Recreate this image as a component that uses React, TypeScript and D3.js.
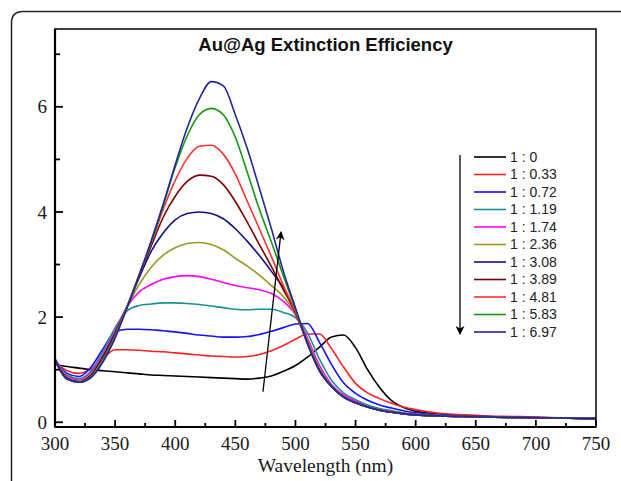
import { useEffect, useRef } from 'react';
import * as d3 from 'd3';

// wavelengths (nm) sampled along every curve
const wavelengths = [
  300, 310, 320, 330, 340, 350, 360, 370, 380, 390, 400, 410, 420, 430, 440, 450,
  460, 470, 480, 490, 500, 510, 520, 530, 540, 550, 560, 570, 580, 590, 600,
  620, 640, 660, 680, 700, 725, 750,
];

const ratioLabels = [
  '1 : 0', '1 : 0.33', '1 : 0.72', '1 : 1.19', '1 : 1.74', '1 : 2.36',
  '1 : 3.08', '1 : 3.89', '1 : 4.81', '1 : 5.83', '1 : 6.97',
];

const ratioColors = [
  '#000000', '#ff2020', '#1010ff', '#1a9090', '#ff00ff', '#999922',
  '#10108a', '#800000', '#ff3030', '#109a10', '#2525a0',
];

const ext0 = [1.10, 1.06, 1.03, 1.00, 0.98, 0.96, 0.94, 0.92, 0.90, 0.89, 0.88, 0.87, 0.86, 0.85, 0.84, 0.83,
  0.82, 0.84, 0.88, 0.97, 1.08, 1.24, 1.43, 1.62, 1.66, 1.42, 1.00, 0.66, 0.41, 0.28, 0.21,
  0.16, 0.13, 0.11, 0.10, 0.09, 0.08, 0.07];
const ext033 = [1.15, 0.98, 0.93, 1.02, 1.22, 1.38, 1.38, 1.37, 1.35, 1.34, 1.32, 1.30, 1.28, 1.26, 1.25, 1.24,
  1.25, 1.29, 1.36, 1.46, 1.58, 1.68, 1.68, 1.40, 1.05, 0.74, 0.56, 0.45, 0.36, 0.29, 0.24,
  0.17, 0.14, 0.12, 0.11, 0.10, 0.08, 0.07];
const ext072 = [1.18, 0.93, 0.87, 1.05, 1.40, 1.72, 1.77, 1.77, 1.76, 1.74, 1.72, 1.69, 1.66, 1.64, 1.62, 1.62,
  1.63, 1.67, 1.73, 1.80, 1.87, 1.88, 1.52, 1.10, 0.75, 0.55, 0.42, 0.33, 0.27, 0.22, 0.18,
  0.14, 0.12, 0.11, 0.10, 0.09, 0.08, 0.07];
const ext119 = [1.20, 0.90, 0.83, 0.98, 1.35, 1.80, 2.12, 2.22, 2.25, 2.27, 2.27, 2.26, 2.24, 2.21, 2.18, 2.15,
  2.14, 2.15, 2.15, 2.09, 1.99, 1.70, 1.20, 0.80, 0.56, 0.43, 0.33, 0.26, 0.22, 0.18, 0.16,
  0.13, 0.11, 0.10, 0.09, 0.085, 0.08, 0.07];
const ext174 = [1.20, 0.88, 0.80, 0.95, 1.30, 1.75, 2.20, 2.48, 2.62, 2.72, 2.77, 2.79, 2.77, 2.72, 2.66, 2.60,
  2.56, 2.52, 2.45, 2.30, 2.05, 1.60, 1.08, 0.72, 0.52, 0.40, 0.30, 0.24, 0.20, 0.17, 0.15,
  0.12, 0.11, 0.10, 0.09, 0.085, 0.08, 0.07];
const ext236 = [1.20, 0.86, 0.78, 0.92, 1.27, 1.72, 2.20, 2.62, 2.95, 3.18, 3.32, 3.40, 3.42, 3.38, 3.28, 3.12,
  2.97, 2.80, 2.60, 2.39, 2.06, 1.55, 1.02, 0.69, 0.49, 0.37, 0.29, 0.23, 0.19, 0.16, 0.14,
  0.12, 0.11, 0.10, 0.09, 0.085, 0.08, 0.07];
const ext308 = [1.20, 0.84, 0.77, 0.90, 1.25, 1.70, 2.20, 2.75, 3.25, 3.60, 3.85, 3.97, 4.00, 3.97, 3.87, 3.68,
  3.44, 3.17, 2.87, 2.55, 2.10, 1.50, 0.99, 0.68, 0.48, 0.37, 0.29, 0.23, 0.19, 0.16, 0.14,
  0.12, 0.11, 0.10, 0.09, 0.085, 0.08, 0.07];
const ext389 = [1.18, 0.82, 0.76, 0.88, 1.22, 1.67, 2.20, 2.78, 3.35, 3.90, 4.30, 4.58, 4.70, 4.68, 4.52, 4.20,
  3.80, 3.38, 2.96, 2.52, 2.08, 1.50, 0.98, 0.68, 0.48, 0.37, 0.29, 0.23, 0.19, 0.16, 0.14,
  0.12, 0.11, 0.10, 0.09, 0.085, 0.08, 0.07];
const ext481 = [1.18, 0.82, 0.76, 0.87, 1.20, 1.65, 2.20, 2.80, 3.40, 4.05, 4.60, 5.02, 5.25, 5.27, 5.10, 4.72,
  4.20, 3.68, 3.15, 2.60, 2.10, 1.50, 0.98, 0.68, 0.48, 0.37, 0.29, 0.23, 0.19, 0.16, 0.14,
  0.12, 0.11, 0.10, 0.09, 0.085, 0.08, 0.07];
const ext583 = [1.18, 0.82, 0.76, 0.86, 1.18, 1.63, 2.20, 2.80, 3.42, 4.12, 4.85, 5.45, 5.85, 5.97, 5.85, 5.42,
  4.75, 4.05, 3.43, 2.78, 2.15, 1.50, 0.98, 0.68, 0.48, 0.37, 0.29, 0.23, 0.19, 0.16, 0.14,
  0.12, 0.11, 0.10, 0.09, 0.085, 0.08, 0.07];
const ext697 = [1.20, 0.82, 0.76, 0.85, 1.15, 1.60, 2.18, 2.80, 3.45, 4.15, 4.90, 5.60, 6.15, 6.48, 6.40, 5.85,
  5.20, 4.45, 3.68, 2.87, 2.18, 1.50, 0.98, 0.68, 0.48, 0.37, 0.29, 0.23, 0.19, 0.16, 0.14,
  0.12, 0.11, 0.10, 0.09, 0.085, 0.08, 0.07];

const allSeries = [ext0, ext033, ext072, ext119, ext174, ext236, ext308, ext389, ext481, ext583, ext697];

const xMajorTicks = [300, 350, 400, 450, 500, 550, 600, 650, 700, 750];
const xMinorTicks = [325, 375, 425, 475, 525, 575, 625, 675, 725];
const yMajorTicks = [0, 2, 4, 6];
const yMinorTicks = [1, 3, 5, 7];

// arrow drawn across the curves: [wavelength, extinction]
const trendArrow = [[473, 0.58], [488, 3.62]];

const W = 621;
const H = 481;

const App = () => {
  const svgRef = useRef(null);

  useEffect(() => {
    const margin = { top: 29, right: 25, bottom: 54, left: 55 };
    const width = W - margin.left - margin.right;
    const height = H - margin.top - margin.bottom;
    const serif = '"Liberation Serif", "Times New Roman", serif';
    const sans = '"Liberation Sans", Arial, sans-serif';

    const root = d3.select(svgRef.current);
    root.selectAll('*').remove();

    const defs = root.append('defs');
    defs
      .append('marker')
      .attr('id', 'head')
      .attr('viewBox', '0 0 10 10')
      .attr('refX', 9)
      .attr('refY', 5)
      .attr('markerWidth', 12)
      .attr('markerHeight', 9)
      .attr('markerUnits', 'userSpaceOnUse')
      .attr('orient', 'auto')
      .append('path')
      .attr('d', 'M0,0 L10,5 L0,10 L3,5 Z')
      .attr('fill', '#000');

    // outer figure frame with rounded corner
    root
      .append('path')
      .attr('d', `M11.5,${H} L11.5,23 Q11.5,11.5 23,11.5 L${W},11.5`)
      .attr('fill', 'none')
      .attr('stroke', '#222')
      .attr('stroke-width', 1.5);

    const svg = root.append('g').attr('transform', `translate(${margin.left},${margin.top})`);

    const x = d3.scaleLinear().domain([300, 750]).range([0, width]);
    const y = d3.scaleLinear().domain([-0.09, 7.48]).range([height, 0]);

    const line = d3
      .line()
      .x((d) => x(d[0]))
      .y((d) => y(d[1]))
      .curve(d3.curveMonotoneX);

    allSeries.forEach((vals, i) => {
      svg
        .append('path')
        .attr('d', line(wavelengths.map((w, j) => [w, vals[j]])))
        .attr('fill', 'none')
        .attr('stroke', ratioColors[i])
        .attr('stroke-width', 1.6);
    });

    // plot frame
    svg
      .append('rect')
      .attr('x', 0)
      .attr('y', 0)
      .attr('width', width)
      .attr('height', height)
      .attr('fill', 'none')
      .attr('stroke', '#000')
      .attr('stroke-width', 1.5);
    svg.append('line').attr('x1', 0).attr('x2', 0).attr('y1', 0).attr('y2', height)
      .attr('stroke', '#000').attr('stroke-width', 2.2);
    svg.append('line').attr('x1', 0).attr('x2', width).attr('y1', height).attr('y2', height)
      .attr('stroke', '#000').attr('stroke-width', 2.2);

    // ticks (pointing inward)
    xMajorTicks.forEach((t) => {
      svg.append('line').attr('x1', x(t)).attr('x2', x(t)).attr('y1', height).attr('y2', height - 7)
        .attr('stroke', '#000').attr('stroke-width', 1.8);
      svg
        .append('text')
        .attr('x', x(t))
        .attr('y', height + 23)
        .attr('text-anchor', 'middle')
        .style('font-family', serif)
        .style('font-size', '19px')
        .attr('fill', '#1a1a1a')
        .text(t);
    });
    xMinorTicks.forEach((t) => {
      svg.append('line').attr('x1', x(t)).attr('x2', x(t)).attr('y1', height).attr('y2', height - 4)
        .attr('stroke', '#000').attr('stroke-width', 1.8);
    });
    yMajorTicks.forEach((t) => {
      svg.append('line').attr('x1', 0).attr('x2', 8).attr('y1', y(t)).attr('y2', y(t))
        .attr('stroke', '#000').attr('stroke-width', 1.8);
      svg
        .append('text')
        .attr('x', -8)
        .attr('y', y(t))
        .attr('dy', '0.35em')
        .attr('text-anchor', 'end')
        .style('font-family', serif)
        .style('font-size', '19px')
        .attr('fill', '#1a1a1a')
        .text(t);
    });
    yMinorTicks.forEach((t) => {
      svg.append('line').attr('x1', 0).attr('x2', 5).attr('y1', y(t)).attr('y2', y(t))
        .attr('stroke', '#000').attr('stroke-width', 1.8);
    });

    svg
      .append('text')
      .attr('x', width / 2)
      .attr('y', height + 45)
      .attr('text-anchor', 'middle')
      .style('font-family', serif)
      .style('font-size', '19.5px')
      .attr('fill', '#1a1a1a')
      .text('Wavelength (nm)');

    svg
      .append('text')
      .attr('x', width / 2)
      .attr('y', 22)
      .attr('text-anchor', 'middle')
      .style('font-family', sans)
      .style('font-size', '18.5px')
      .style('font-weight', 'bold')
      .attr('fill', '#111')
      .text('Au@Ag Extinction Efficiency');

    // trend arrow over the peaks
    svg
      .append('line')
      .attr('x1', x(trendArrow[0][0]))
      .attr('y1', y(trendArrow[0][1]))
      .attr('x2', x(trendArrow[1][0]))
      .attr('y2', y(trendArrow[1][1]))
      .attr('stroke', '#000')
      .attr('stroke-width', 1.3)
      .attr('marker-end', 'url(#head)');

    // legend
    const legendX = 419;
    const legendY = 128;
    const rowH = 17.5;
    const legend = svg.append('g').attr('transform', `translate(${legendX},${legendY})`);
    legend
      .append('line')
      .attr('x1', -14)
      .attr('x2', -14)
      .attr('y1', -2)
      .attr('y2', rowH * (ratioLabels.length - 1) + 2)
      .attr('stroke', '#000')
      .attr('stroke-width', 1.3)
      .attr('marker-end', 'url(#head)');
    ratioLabels.forEach((lab, i) => {
      legend
        .append('line')
        .attr('x1', 0)
        .attr('x2', 32)
        .attr('y1', i * rowH)
        .attr('y2', i * rowH)
        .attr('stroke', ratioColors[i])
        .attr('stroke-width', 1.6);
      legend
        .append('text')
        .attr('x', 36)
        .attr('y', i * rowH)
        .attr('dy', '0.35em')
        .style('font-family', sans)
        .style('font-size', '14px')
        .attr('fill', '#222')
        .text(lab);
    });
  }, []);

  return (
    <svg
      ref={svgRef}
      width={W}
      height={H}
      style={{ position: 'absolute', left: 0, top: 0, background: '#fff', display: 'block' }}
    />
  );
};

export default App;
